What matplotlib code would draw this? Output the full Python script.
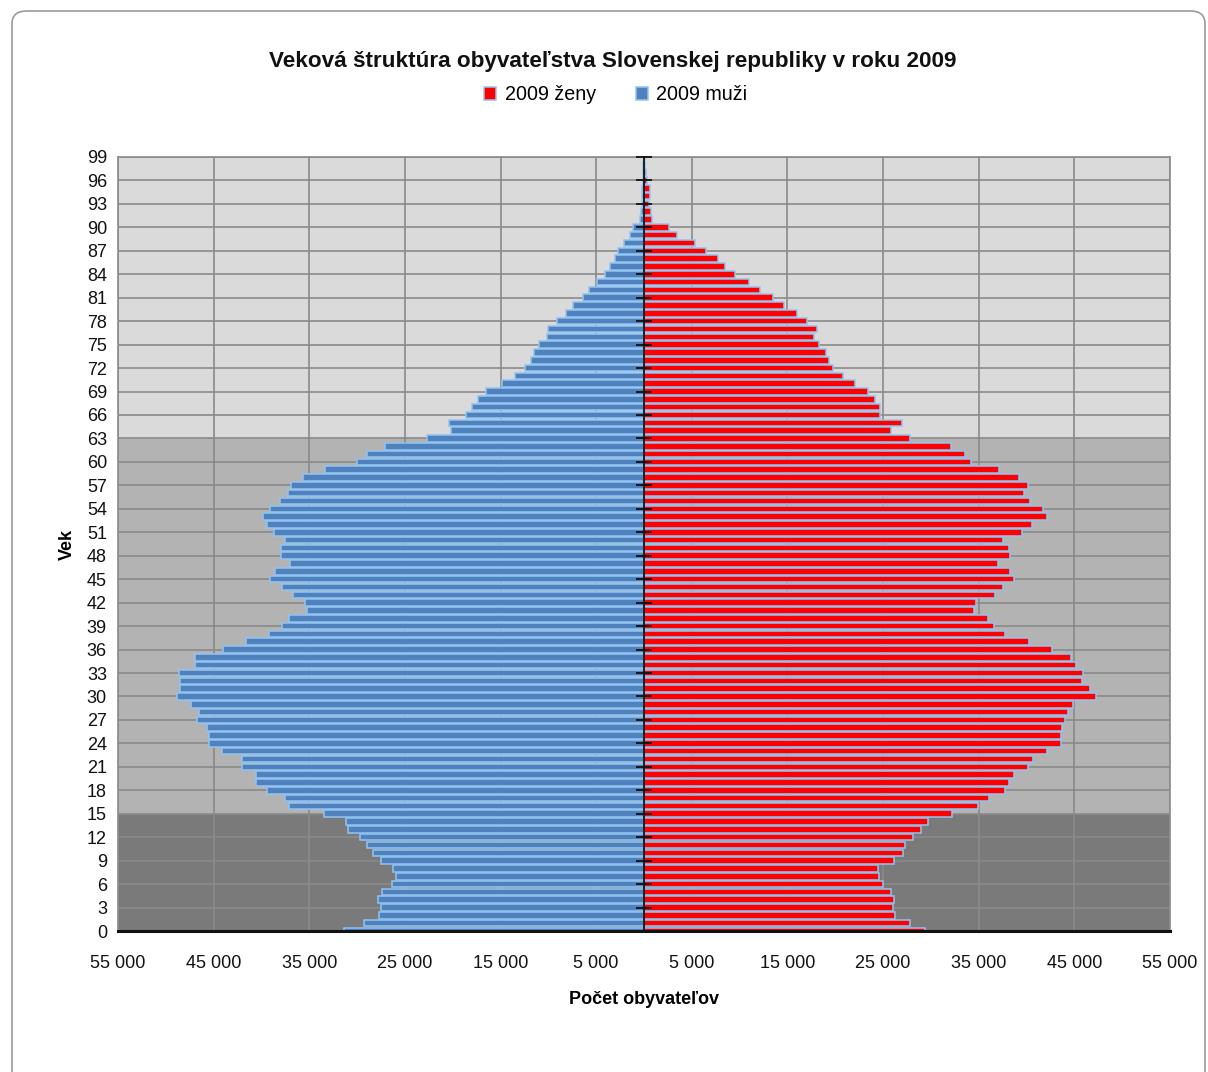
import matplotlib
matplotlib.use("Agg")
import matplotlib.pyplot as plt
from matplotlib.patches import FancyBboxPatch, Patch
from matplotlib.ticker import FuncFormatter

plt.rcParams['font.family'] = ['Liberation Sans', 'DejaVu Sans']

# ---- data ----
ages = list(range(0, 100))
males = [31400, 29240, 27720, 27540, 27830, 27400, 26350, 25880, 26240, 27510,
         28340, 28950, 29710, 30930, 31180, 33490, 37130, 37560, 39470, 40560,
         40520, 42000, 42070, 44160, 45460, 45460, 45680, 46690, 46500, 47400,
         48880, 48490, 48560, 48600, 46900, 46900, 44020, 41640, 39220, 37890,
         37100, 35260, 35440, 36740, 37820, 39110, 38540, 37020, 37920, 38000,
         37530, 38650, 39470, 39800, 39110, 38100, 37240, 36950, 35650, 33310,
         29960, 28950, 27070, 22640, 20220, 20400, 18640, 17990, 17340, 16550,
         14850, 13520, 12440, 11860, 11460, 11000, 10100, 10060, 9080, 8180,
         7390, 6350, 5800, 4870, 4100, 3600, 3060, 2700, 2130, 1480,
         1100, 450, 300, 200, 200, 200, 150, 100, 100, 50]
females = [29400, 27780, 26260, 26050, 26150, 25830, 24960, 24530, 24460, 26150,
           27090, 27270, 28100, 29010, 29690, 32250, 34890, 36080, 37780, 38140,
           38640, 40160, 40630, 42150, 43560, 43590, 43660, 43990, 44380, 44890,
           47240, 46590, 45830, 45940, 45210, 44670, 42690, 40300, 37780, 36590,
           36010, 34460, 34710, 36660, 37560, 38680, 38250, 37020, 38280, 38180,
           37560, 39480, 40520, 42150, 41750, 40410, 39760, 40160, 39260, 37170,
           34240, 33520, 32070, 27850, 25860, 26950, 24670, 24670, 24170, 23410,
           22110, 20810, 19730, 19370, 19040, 18250, 17820, 18140, 17090, 16050,
           14670, 13520, 12110, 11000, 9550, 8430, 7740, 6480, 5320, 3450,
           2580, 880, 700, 490, 600, 600, 300, 200, 150, 100]
series_names = ["2009 ženy", "2009 muži"]
band_edges = [0, 15, 63, 99]
x_ticks = list(range(-55000, 55001, 10000))
y_ticks = list(range(0, 100, 3))

title = "Veková štruktúra obyvateľstva Slovenskej republiky v roku 2009"
xlabel = "Počet obyvateľov"
ylabel = "Vek"

# ---- style ----
c_male = "#4f81bd"
c_female = "#ff0000"
c_edge = "#92c4f2"
band_colors = ["#7a7a7a", "#b3b3b3", "#dadada"]
grid_c = "#8a8a8a"

fig = plt.figure(figsize=(12.08, 10.72), dpi=100)
fig.patch.set_facecolor("white")

# outer rounded frame
frame = FancyBboxPatch((12 / 1208, -0.05), (1205 - 12) / 1208, 1.05 - 11 / 1072,
                       boxstyle="round,pad=0,rounding_size=0.012",
                       transform=fig.transFigure, facecolor="none",
                       edgecolor="#9a9a9a", linewidth=1.2, zorder=0)
fig.patches.append(frame)

ax = fig.add_axes([118 / 1208, 1 - 931 / 1072, (1170 - 118) / 1208, (931 - 157) / 1072])
ax.set_xlim(-55000, 55000)
ax.set_ylim(0, 99)

for i in range(len(band_edges) - 1):
    ax.axhspan(band_edges[i], band_edges[i + 1], color=band_colors[i], zorder=0, lw=0)

for xv in x_ticks:
    ax.axvline(xv, color=grid_c, lw=1.2, zorder=1)
for yv in y_ticks:
    ax.axhline(yv, color=grid_c, lw=1.2, zorder=1)

ax.barh(ages, [-m for m in males], height=0.84, color=c_male, edgecolor=c_edge,
        linewidth=1.1, zorder=3, label=series_names[1])
ax.barh(ages, females, height=0.84, color=c_female, edgecolor=c_edge,
        linewidth=1.1, zorder=3, label=series_names[0])

ax.set_xticks(x_ticks)
ax.xaxis.set_major_formatter(FuncFormatter(lambda v, p: f"{abs(int(round(v))):,}".replace(",", " ")))
ax.set_yticks(y_ticks)
ax.set_yticklabels([str(a) for a in y_ticks])
ax.tick_params(axis="x", length=0, pad=17, labelsize=13, labelcolor="#111111")
ax.tick_params(axis="y", length=0, pad=8, labelsize=13, labelcolor="#111111")

for s in ["left", "top", "right"]:
    ax.spines[s].set_color(grid_c)
    ax.spines[s].set_linewidth(1.2)
ax.spines["bottom"].set_color("#111111")
ax.spines["bottom"].set_linewidth(2.2)
ax.spines["bottom"].set_zorder(5)

ax.set_xlabel(xlabel, fontsize=13, fontweight="bold", labelpad=14)
ax.set_ylabel(ylabel, fontsize=13, fontweight="bold", labelpad=8)

# central axis with tick marks
ax2 = ax.twinx()
ax2.set_ylim(0, 99)
ax2.set_yticks(y_ticks)
ax2.spines["right"].set_position(("data", 0))
ax2.spines["right"].set_color("#111111")
ax2.spines["right"].set_linewidth(1.3)
for s in ["left", "top", "bottom"]:
    ax2.spines[s].set_visible(False)
ax2.tick_params(axis="y", direction="inout", length=12, width=1.3, color="#111111",
                labelright=False, right=True)

fig.text(613 / 1208, 1 - 62 / 1072, title, ha="center", va="center",
         fontsize=16.2, fontweight="bold", color="#111111")

handles = [Patch(facecolor=c_female, edgecolor=c_edge, lw=1.1),
           Patch(facecolor=c_male, edgecolor=c_edge, lw=1.1)]
fig.legend(handles, series_names, loc="center", bbox_to_anchor=(616 / 1208, 1 - 95 / 1072),
           ncol=2, frameon=False, fontsize=14.2, handlelength=0.6, handleheight=0.6,
           handletextpad=0.45, columnspacing=2.0)

fig.savefig("out.png", dpi=100)
